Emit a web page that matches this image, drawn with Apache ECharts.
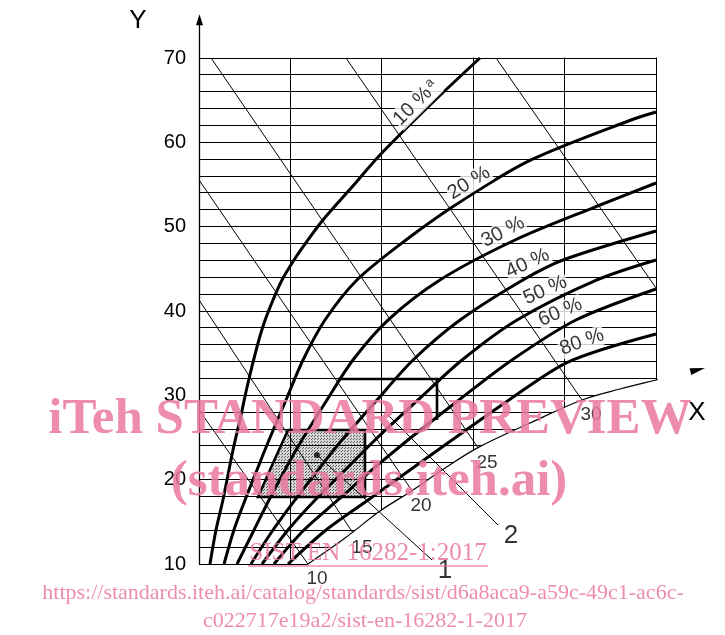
<!DOCTYPE html>
<html><head><meta charset="utf-8">
<script src="https://cdn.jsdelivr.net/npm/echarts@6/dist/echarts.min.js"></script>
<style>html,body{margin:0;padding:0;background:#fff}#c{width:725px;height:635px}</style>
</head><body><div id="c"></div>
<script>
// ---- data ----
const yTickValues = [10, 20, 30, 40, 50, 60, 70];
const gridY = [10,12,14,16,18,20,22,24,26,28,30,32,34,36,38,40,42,44,46,48,50,52,54,56,58,60,62,64,66,68,70];
const gridX = [0, 5, 10, 15, 20, 25];
const rhNames = ['10 %', '20 %', '30 %', '40 %', '50 %', '60 %', '80 %'];
const rh10 = [[0.60,10],[0.93,14.03],[1.31,17.59],[1.86,23.52],[2.24,27.08],[2.68,31.46],[3.17,35.73],[3.56,38.58],[4.05,41.31],[4.54,43.68],[5.20,46.05],[5.96,48.42],[6.78,50.79],[8.37,54.70],[9.90,58.50],[12.58,64.31],[15.37,70]];
const rh20 = [[1.37,10],[1.91,14.03],[2.52,17.59],[3.17,21.15],[3.83,24.70],[4.76,29.45],[5.69,34.19],[6.89,38.93],[8.64,43.68],[11.32,48.42],[14.44,53.16],[18.16,57.91],[23.63,62.65],[25,63.60]];
const rh30 = [[2.08,10],[3.01,14.03],[3.83,17.59],[4.70,21.15],[5.63,24.70],[7.00,29.45],[8.42,34.19],[10.34,38.93],[13.18,43.68],[17.29,48.42],[21.66,52.33],[25,55.18]];
const rh40 = [[2.84,10],[4.05,14.03],[5.25,17.59],[6.51,21.15],[7.82,24.70],[9.74,29.45],[11.71,34.19],[14.28,38.93],[17.72,43.68],[19.91,46.05],[25,49.49]];
const rh50 = [[3.45,10],[4.87,14.03],[6.35,17.59],[7.99,21.15],[9.63,24.70],[11.98,29.45],[14.39,34.19],[17.40,38.93],[21.77,43.68],[25,46.05]];
const rh60 = [[4.10,10],[5.74,14.03],[7.60,17.59],[9.46,21.15],[11.43,24.70],[14.22,29.45],[17.12,34.19],[20.62,38.93],[25,42.61]];
const rh80 = [[4.87,10],[6.95,14.03],[9.25,17.59],[11.54,21.15],[13.84,24.70],[16.96,29.45],[20.19,33.95],[25,37.27]];
const rhCurves = [rh10, rh20, rh30, rh40, rh50, rh60, rh80];
const xAxisCurve = [[5.96,10],[7.99,13.08],[9.90,16.28],[11.65,18.7],[13.46,21.38],[15.26,23.8],[18.11,26.72],[20.95,29.45],[23.03,30.75],[25.0,31.82],[27.68,33.24]];
const xTickLabels = ['10', '15', '20', '25', '30'];
const xTickPoints = [[5.96,10],[8.42,13.68],[11.65,18.7],[15.26,23.8],[20.95,29.45]];
const isoLines = [
  [[0,28.26],[5.96,10]],
  [[0,41.31],[8.42,13.68]],
  [[0,55.54],[11.65,18.7]],
  [[0.66,70],[15.26,23.8]],
  [[8.04,70],[20.95,29.45]],
  [[16.25,70],[25,42.73]]
];
const shadedZone = [[4.87,25.89],[9.08,25.89],[9.08,17.94],[3.23,17.94],[4.05,21.98]];
const largeZoneEdges = [[7.60,31.94],[13.02,31.94],[13.02,27.08]];
const designPoint = [6.45, 22.93];
const leaderNames = ['1', '2'];
const leaderLines = [
  [[6.45,22.93],[12.75,10.47]],
  [[10.34,27.67],[16.36,14.62]]
];
const yAxisTop = 75.2;

// ---- layout / styles ----
const rhLabelPos = [[11.87,64.67],[14.77,55.18],[16.63,49.37],[17.98,45.66],[18.94,42.47],[19.76,39.86],[20.95,36.33]];
const rhLabelRot = [45, 32, 27, 25, 24, 23, 20];
const FONT = '"Liberation Sans", Arial, sans-serif';
const SERIF = '"Liberation Serif", "Times New Roman", serif';
const PINK = 'rgba(234,120,156,0.85)';

const pc = document.createElement('canvas'); pc.width = 3; pc.height = 3;
const g = pc.getContext('2d');
g.fillStyle = '#d6d6d6'; g.fillRect(0,0,3,3);
g.fillStyle = '#5c5c5c'; g.fillRect(0,0,1,1); g.fillRect(2,1,1,1);

function crisp(v){ return Math.round(v - 0.5) + 0.5; }
function segs(api, pts){ return pts.map(p => api.coord(p)); }

const chart = echarts.init(document.getElementById('c'), null, {renderer:'canvas'});
const series = [];

series.push({type:'custom', z:0, silent:true, data:[[0,10]], renderItem:(params, api) => ({
  type:'polygon', shape:{points: segs(api, shadedZone)}, style:{fill:{image: pc, repeat:'repeat'}}
})});
series.push({type:'custom', z:1, silent:true, data:[[0,10]], renderItem:(params, api) => {
  const ch = [];
  gridY.forEach(v => { const a = api.coord([gridX[0], v]), b = api.coord([gridX[gridX.length-1], v]); const y = crisp(a[1]);
    ch.push({type:'line', shape:{x1:a[0], y1:y, x2:b[0]+0.5, y2:y}, style:{stroke:'#000', lineWidth:1}}); });
  gridX.forEach(v => { const a = api.coord([v, gridY[0]]), b = api.coord([v, gridY[gridY.length-1]]); const x = crisp(a[0]);
    ch.push({type:'line', shape:{x1:x, y1:a[1], x2:x, y2:b[1]-0.5}, style:{stroke:'#000', lineWidth:1}}); });
  return {type:'group', children:ch};
}});
series.push({type:'custom', z:2, silent:true, data:[[0,10]], renderItem:(params, api) => {
  const pts = segs(api, xAxisCurve);
  const last = xAxisCurve[xAxisCurve.length-1], first = xAxisCurve[0];
  pts.push(api.coord([last[0], 9.4])); pts.push(api.coord([first[0], 9.4]));
  return {type:'polygon', shape:{points:pts}, style:{fill:'#fff'}};
}});
series.push({type:'custom', z:4, silent:true, data:[[0,10]], renderItem:(params, api) => {
  const ch = [];
  isoLines.concat(leaderLines).forEach(l => { const p = segs(api, l);
    ch.push({type:'polyline', shape:{points:p}, style:{stroke:'#000', lineWidth:1, fill:null}}); });
  return {type:'group', children:ch};
}});
series.push({type:'custom', z:5, silent:true, data:[[0,10]], renderItem:(params, api) => ({
  type:'group', children:[
    {type:'polygon', shape:{points: segs(api, shadedZone)}, style:{stroke:'#000', lineWidth:2.6, fill:null, lineJoin:'miter'}},
    {type:'polyline', shape:{points: segs(api, largeZoneEdges)}, style:{stroke:'#000', lineWidth:2.6, fill:null}}
  ]
})});
rhCurves.forEach((d, i) => series.push({type:'line', name: rhNames[i], data: d, smooth: 0.3, symbol:'none', clip:false, z:6,
  lineStyle:{color:'#000', width:3}, silent:true}));
series.push({type:'line', data: xAxisCurve, smooth:0.35, symbol:'none', clip:false, z:7, lineStyle:{color:'#000', width:1.2}, silent:true});
series.push({type:'custom', z:8, silent:true, data:[[0,10]], renderItem:(params, api) => {
  const p0 = api.coord([0, gridY[0]]), p1 = api.coord([0, yAxisTop]);
  const x = crisp(p0[0]);
  const ch = [];
  ch.push({type:'line', shape:{x1:x, y1:p0[1]+0.5, x2:x, y2:p1[1]+6}, style:{stroke:'#000', lineWidth:1.3}});
  ch.push({type:'polygon', shape:{points:[[x, p1[1]], [x-3.5, p1[1]+11], [x+3.5, p1[1]+11]]}, style:{fill:'#000'}});
  const n = xAxisCurve.length;
  const a = api.coord(xAxisCurve[n-2]), b = api.coord(xAxisCurve[n-1]);
  const ang = Math.atan2(b[1]-a[1], b[0]-a[0]);
  const L = 15, W = 3.5;
  const bx = b[0] - L*Math.cos(ang), by = b[1] - L*Math.sin(ang);
  const nx = -Math.sin(ang)*W, ny = Math.cos(ang)*W;
  ch.push({type:'polygon', shape:{points:[[b[0], b[1]], [bx+nx, by+ny], [bx-nx, by-ny]]}, style:{fill:'#000'}});
  return {type:'group', children:ch};
}});
series.push({type:'scatter', data:[designPoint], symbolSize:6, z:9, itemStyle:{color:'#000'}, silent:true});
series.push({type:'scatter', symbolSize:1, z:10, silent:true, itemStyle:{color:'transparent'},
  data: rhLabelPos.map((p, i) => ({value:p, label:{rotate: rhLabelRot[i],
    formatter: i === 0 ? '{n|' + rhNames[i] + '}{s|a}' : rhNames[i]}})),
  label:{show:true, position:'inside', color:'#000', fontSize:20, fontFamily:FONT, backgroundColor:'#fff', padding:[0,1,0,1],
    rich:{n:{fontSize:20, fontFamily:FONT, color:'#000', lineHeight:22}, s:{fontSize:13, fontFamily:FONT, color:'#000', lineHeight:22, verticalAlign:'top', padding:[0,0,7,2]}}}
});
series.push({type:'scatter', symbolSize:1, z:10, silent:true, itemStyle:{color:'transparent'},
  data: xTickPoints.map((p, i) => ({value:p, name: xTickLabels[i]})),
  label:{show:true, position:'inside', offset:[9,15], formatter:'{b}', color:'#000', fontSize:19, fontFamily:FONT}
});
series.push({type:'scatter', symbolSize:1, z:10, silent:true, itemStyle:{color:'transparent'},
  data: leaderLines.map((l, i) => ({value:l[1], name: leaderNames[i]})),
  label:{show:true, position:'inside', offset:[13,11], formatter:'{b}', color:'#000', fontSize:26, fontFamily:FONT}
});

chart.setOption({
  animation:false,
  backgroundColor:'#fff',
  grid:{left:199, top:58, width:457, height:506},
  xAxis:{type:'value', min:0, max:25, show:false},
  yAxis:{type:'value', min:yTickValues[0], max:yTickValues[yTickValues.length-1], interval:10,
    axisLine:{show:false}, axisTick:{show:false}, splitLine:{show:false},
    axisLabel:{fontSize:20, color:'#000', margin:13, fontFamily:FONT}},
  series: series,
  graphic:[
    {type:'text', z:50, style:{x:138, y:21, text:'Y', font:'26px ' + FONT, fill:'#000', align:'center', verticalAlign:'middle', textAlign:'center', textVerticalAlign:'middle'}},
    {type:'text', z:50, style:{x:697, y:413, text:'X', font:'26px ' + FONT, fill:'#000', align:'center', verticalAlign:'middle', textAlign:'center', textVerticalAlign:'middle'}},
    {type:'text', z:100, silent:true, style:{x:370, y:420, text:'iTeh STANDARD PREVIEW', font:'bold 51px ' + SERIF, fill:PINK, align:'center', verticalAlign:'middle', textAlign:'center', textVerticalAlign:'middle'}},
    {type:'text', z:100, silent:true, style:{x:369, y:482, text:'(standards.iteh.ai)', font:'bold 51px ' + SERIF, fill:PINK, align:'center', verticalAlign:'middle', textAlign:'center', textVerticalAlign:'middle'}},
    {type:'text', z:100, silent:true, style:{x:368, y:553, text:'SIST EN 16282-1:2017', font:'25px ' + SERIF, fill:PINK, align:'center', verticalAlign:'middle', textAlign:'center', textVerticalAlign:'middle'}},
    {type:'line', z:100, silent:true, shape:{x1:248, y1:566, x2:488, y2:566}, style:{stroke:PINK, lineWidth:1.5}},
    {type:'text', z:100, silent:true, style:{x:363, y:593, text:'https://standards.iteh.ai/catalog/standards/sist/d6a8aca9-a59c-49c1-ac6c-', font:'22px ' + SERIF, fill:PINK, align:'center', verticalAlign:'middle', textAlign:'center', textVerticalAlign:'middle'}},
    {type:'text', z:100, silent:true, style:{x:365, y:621, text:'c022717e19a2/sist-en-16282-1-2017', font:'22px ' + SERIF, fill:PINK, align:'center', verticalAlign:'middle', textAlign:'center', textVerticalAlign:'middle'}}
  ]
});
</script></body></html>
